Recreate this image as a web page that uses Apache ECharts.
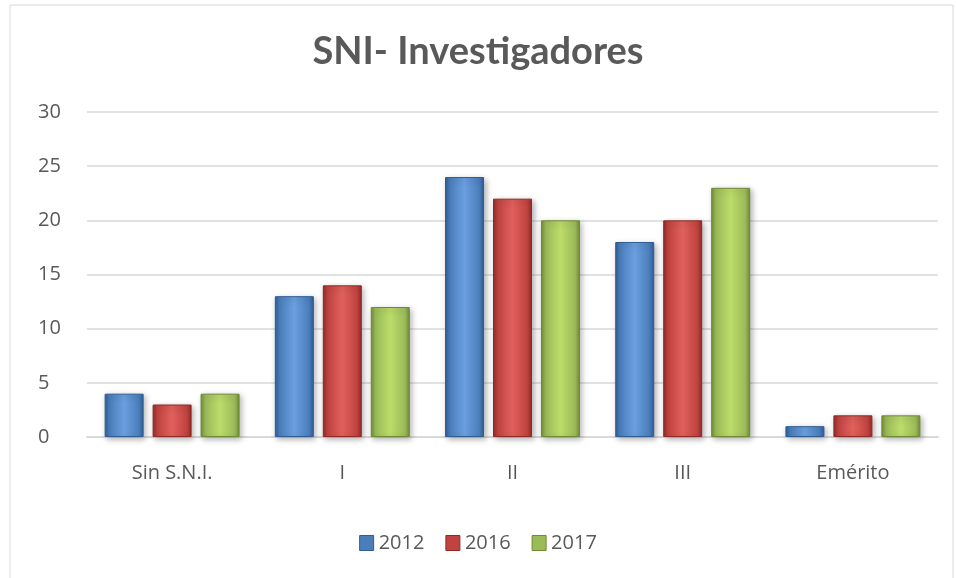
<!DOCTYPE html>
<html>
<head>
<meta charset="utf-8">
<script src="https://cdn.jsdelivr.net/npm/echarts@6/dist/echarts.min.js"></script>
<style>
  html, body { margin: 0; padding: 0; background: #fff; }
  #chart { width: 956px; height: 578px; }
</style>
</head>
<body>
<div id="chart"></div>
<script>
// datos
const categorias = ['Sin S.N.I.', 'I', 'II', 'III', 'Emérito'];
const anios = ['2012', '2016', '2017'];
const valores2012 = [4, 13, 24, 18, 1];
const valores2016 = [3, 14, 22, 20, 2];
const valores2017 = [4, 12, 20, 23, 2];

// colores base de cada serie (claro, medio, oscuro)
const colores = [
  ['#6a9fe0', '#4a7ebb', '#2f5d94'],
  ['#e0605c', '#c0433f', '#8f2a27'],
  ['#bcdc6a', '#9bbb59', '#6f8a35']
];

function relleno(c) {
  return new echarts.graphic.LinearGradient(0, 0, 1, 0, [
    { offset: 0, color: c[2] },
    { offset: 0.12, color: c[1] },
    { offset: 0.5, color: c[0] },
    { offset: 0.88, color: c[1] },
    { offset: 1, color: c[2] }
  ]);
}

const datos = [valores2012, valores2016, valores2017];

const chart = echarts.init(document.getElementById('chart'));
const option = {
  animation: false,
  textStyle: { fontFamily: '"Open Sans", sans-serif' },
  graphic: [{
    type: 'rect',
    shape: { x: 10, y: 5, width: 943, height: 590 },
    style: { fill: 'none', stroke: '#d9d9d9', lineWidth: 1 },
    silent: true
  }],
  title: {
    text: 'SNI- Investigadores',
    left: 'center',
    top: 28,
    textStyle: { fontSize: 38, fontWeight: 'bold', color: '#595959', fontFamily: 'Lato, sans-serif' }
  },
  legend: {
    data: anios.map((a, i) => ({ name: a, itemStyle: { color: colores[i][1], borderColor: colores[i][2], borderWidth: 1 } })),
    bottom: 20,
    left: 'center',
    icon: 'rect',
    itemWidth: 14,
    itemHeight: 15,
    itemGap: 21,
    textStyle: { fontSize: 20, color: '#595959' }
  },
  grid: { left: 87, right: 18, top: 112, bottom: 141, containLabel: false },
  xAxis: {
    type: 'category',
    data: categorias,
    axisLine: { lineStyle: { color: '#d9d9d9', width: 2 } },
    axisTick: { show: false },
    axisLabel: { fontSize: 20, color: '#595959', margin: 26 }
  },
  yAxis: {
    type: 'value',
    min: 0,
    max: 30,
    interval: 5,
    axisLine: { show: false },
    axisTick: { show: false },
    axisLabel: { fontSize: 20, color: '#595959', margin: 49, align: 'left' },
    splitLine: { lineStyle: { color: '#d9d9d9', width: 1.5 } }
  },
  series: anios.map((a, i) => ({
    name: a,
    type: 'bar',
    data: datos[i],
    barWidth: 39,
    barGap: '23%',
    itemStyle: {
      color: relleno(colores[i]),
      borderColor: colores[i][2],
      borderWidth: 1,
      shadowColor: 'rgba(0,0,0,0.3)',
      shadowBlur: 6,
      shadowOffsetX: 2,
      shadowOffsetY: 2
    }
  }))
};
chart.setOption(option);
</script>
</body>
</html>
